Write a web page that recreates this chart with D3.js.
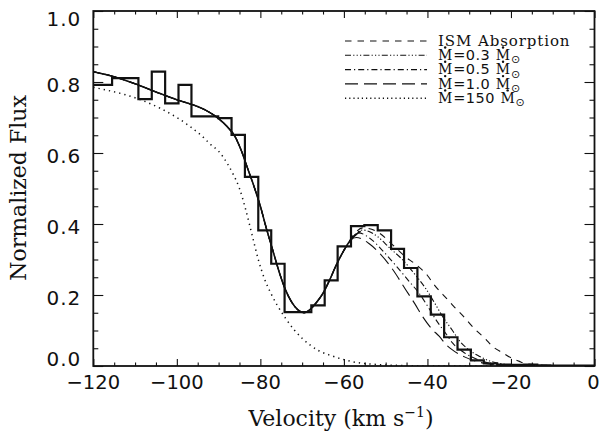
<!DOCTYPE html>
<html>
<head>
<meta charset="utf-8">
<script src="https://cdn.jsdelivr.net/npm/d3@7"></script>
<style>
  body { margin: 0; background: #fff; }
  svg { display: block; }
</style>
</head>
<body>
<div id="chart"></div>
<script>
// ---- Data ----
// observed profile: bin edges (km/s) and flux per bin
const binEdges = [-121.9, -118.7, -115.5, -112.4, -109.2, -106.0, -102.8, -99.6, -96.5, -93.3,
  -90.1, -86.9, -83.7, -80.5, -77.4, -74.2, -71.0, -67.8, -64.6, -61.5, -58.3, -55.1, -51.9,
  -48.7, -45.6, -42.4, -39.2, -36.0, -32.8, -29.6, -26.5, -23.3, -20.1, -16.9, -13.7, -10.6,
  -7.4, -4.2, -1.0, 2.2];
const obsFlux = [0.792, 0.792, 0.811, 0.811, 0.752, 0.829, 0.740, 0.792, 0.703, 0.703,
  0.698, 0.651, 0.533, 0.382, 0.288, 0.152, 0.152, 0.171, 0.241, 0.337, 0.394, 0.397, 0.382,
  0.330, 0.276, 0.196, 0.145, 0.081, 0.046, 0.016, 0.007, 0.004, 0.003, 0.004, 0.002, 0.001,
  0.001, 0.001, 0.001];

// shared blue wing of the low-mass-loss models (also drawn solid)
const wingVel = [-120, -115, -110, -105, -100, -96, -93, -90, -88, -86, -84.5, -83, -81.5, -80,
  -78.5, -77, -75.5, -74, -72.5, -71, -69.5, -68, -66.5, -65, -63.5, -62, -60.5, -59];
const wingFlux = [0.829, 0.815, 0.795, 0.772, 0.750, 0.735, 0.720, 0.697, 0.675, 0.645, 0.605,
  0.555, 0.505, 0.450, 0.385, 0.325, 0.265, 0.215, 0.180, 0.158, 0.150, 0.160, 0.180, 0.205,
  0.240, 0.280, 0.315, 0.345];

// red side of each model
const ismVel = [-57.5, -55.5, -52, -48.4, -45, -43.2, -40, -38.4, -35, -33.7, -31, -28.9, -26,
  -24.5, -22, -20, -18, -16.5, -13, -8, 0];
const ismFlux = [0.372, 0.389, 0.378, 0.342, 0.305, 0.290, 0.255, 0.229, 0.185, 0.168, 0.135,
  0.107, 0.075, 0.056, 0.037, 0.023, 0.013, 0.007, 0.003, 0.001, 0.0];

const m03Vel = [-57.5, -55.5, -52, -49, -46, -43, -40.4, -38, -36.4, -34, -32.4, -30, -28, -25,
  -22, -18, -12, 0];
const m03Flux = [0.368, 0.383, 0.365, 0.332, 0.300, 0.258, 0.218, 0.172, 0.140, 0.100, 0.072,
  0.045, 0.030, 0.014, 0.006, 0.002, 0.0, 0.0];

const m05Vel = [-58, -56.5, -53.5, -50.5, -47.5, -44.5, -42, -39.5, -38, -35.5, -34, -31.5,
  -29.5, -26.5, -23.5, -19.5, -14, 0];
const m05Flux = [0.362, 0.375, 0.357, 0.322, 0.282, 0.240, 0.205, 0.160, 0.131, 0.090, 0.065,
  0.040, 0.026, 0.012, 0.005, 0.0015, 0.0, 0.0];

const m10Vel = [-58.5, -57, -54, -51.5, -48.5, -45.2, -43, -41.2, -39, -37.2, -35.5, -34.1, -31,
  -28, -25, -21, -15, 0];
const m10Flux = [0.355, 0.362, 0.345, 0.318, 0.275, 0.215, 0.175, 0.140, 0.105, 0.084, 0.060,
  0.046, 0.025, 0.012, 0.005, 0.0015, 0.0, 0.0];

const m150Vel = [-120, -116, -112, -108, -104, -100, -97, -94, -92, -90, -88, -86.5, -85, -83.5,
  -82, -80.5, -79, -77.5, -76, -74, -72, -70, -68, -66, -63, -60, -57, -54, -50, -45, -40, 0];
const m150Flux = [0.785, 0.775, 0.763, 0.747, 0.726, 0.700, 0.676, 0.648, 0.625, 0.605, 0.572,
  0.540, 0.500, 0.440, 0.370, 0.300, 0.245, 0.205, 0.172, 0.135, 0.103, 0.078, 0.058, 0.043,
  0.029, 0.018, 0.010, 0.006, 0.003, 0.001, 0.0, 0.0];

const xMajor = [-120, -100, -80, -60, -40, -20, 0];
const yMajor = [0, 0.2, 0.4, 0.6, 0.8, 1.0];

// legend: pieces are [text, kind]; 'mdot' is an M with a dot over it, 'sun' the subscript symbol
const legendItems = [
  { key: 'ism', dash: '6.5 6', legDash: '6.5 6', label: [['ISM Absorption', 'serif']] },
  { key: 'm03', dash: '6 2.2 1.2 2.2 1.2 2.2 1.2 2.2', legDash: '6 2.2 1.2 2.2 1.2 2.2 1.2 2.2',
    label: [['M', 'mdot'], ['=0.3', 'sans'], ['M', 'mdot'], ['⊙', 'sun']] },
  { key: 'm05', dash: '6 3 1.2 3', legDash: '6 3 1.2 3',
    label: [['M', 'mdot'], ['=0.5', 'sans'], ['M', 'mdot'], ['⊙', 'sun']] },
  { key: 'm10', dash: '13 6', legDash: '13 6',
    label: [['M', 'mdot'], ['=1.0', 'sans'], ['M', 'mdot'], ['⊙', 'sun']] },
  { key: 'm150', dash: '1.3 4', legDash: '1.2 3',
    label: [['M', 'mdot'], ['=150', 'sans'], ['M', 'mdot'], ['⊙', 'sun']] }
];

// ---- Layout ----
const W = 600, H = 438;
const margin = { top: 11, right: 5.5, bottom: 72, left: 93.3 };
const iw = W - margin.left - margin.right;
const ih = H - margin.top - margin.bottom;
const serif = '"DejaVu Serif", serif';
const sans = '"DejaVu Sans", sans-serif';
const ink = '#111';

const svg = d3.select('#chart').append('svg').attr('width', W).attr('height', H);
const defs = svg.append('defs');
defs.append('clipPath').attr('id', 'plotClip')
  .append('rect').attr('width', iw).attr('height', ih);

const g = svg.append('g').attr('transform', `translate(${margin.left},${margin.top})`);

const x = d3.scaleLinear().domain([-120, 0]).range([0, iw]);
const y = d3.scaleLinear().domain([0, 1]).range([ih, 0]);

const xMinor = d3.range(-120, 0.1, 5).filter(v => !xMajor.includes(v));
const yMinor = d3.range(0, 1.001, 0.05).map(v => +v.toFixed(2)).filter(v => !yMajor.includes(v));

// ---- Axes (IDL style: inward ticks on all four sides) ----
const xTickLen = 7.1, yTickLen = 10;
function tickAxis(axisFn, scale, values, len, transform) {
  g.append('g')
    .attr('transform', transform)
    .call(axisFn(scale).tickValues(values).tickSize(-len).tickFormat(''))
    .call(a => a.select('.domain').remove())
    .call(a => a.selectAll('line').attr('stroke', ink).attr('stroke-width', 1.1));
}
tickAxis(d3.axisBottom, x, xMajor, xTickLen, `translate(0,${ih})`);
tickAxis(d3.axisBottom, x, xMinor, xTickLen / 2, `translate(0,${ih})`);
tickAxis(d3.axisTop, x, xMajor, xTickLen, 'translate(0,0)');
tickAxis(d3.axisTop, x, xMinor, xTickLen / 2, 'translate(0,0)');
tickAxis(d3.axisLeft, y, yMajor, yTickLen, 'translate(0,0)');
tickAxis(d3.axisLeft, y, yMinor, yTickLen / 2, 'translate(0,0)');
tickAxis(d3.axisRight, y, yMajor, yTickLen, `translate(${iw},0)`);
tickAxis(d3.axisRight, y, yMinor, yTickLen / 2, `translate(${iw},0)`);

// tick labels
g.append('g').selectAll('text').data(xMajor).join('text')
  .attr('x', d => d === 0 ? x(d) - 1 : x(d)).attr('y', ih + 23)
  .attr('text-anchor', 'middle')
  .attr('font-family', sans).attr('font-size', 19.5).attr('fill', ink)
  .text(d => d3.format('d')(d));

g.append('g').selectAll('text').data(yMajor).join('text')
  .attr('x', -12).attr('y', d => Math.min(ih, Math.max(14.5, y(d) + 9.5)))
  .attr('text-anchor', 'end')
  .attr('font-family', sans).attr('font-size', 20).attr('fill', ink)
  .attr('letter-spacing', 1)
  .text(d => d.toFixed(1));

// frame
g.append('rect').attr('width', iw).attr('height', ih)
  .attr('fill', 'none').attr('stroke', ink).attr('stroke-width', 1.8);

// axis titles
svg.append('text')
  .attr('transform', `translate(26,188) rotate(-90)`)
  .attr('text-anchor', 'middle')
  .attr('font-family', serif).attr('font-size', 22).attr('fill', ink)
  .text('Normalized Flux');

const xt = svg.append('text')
  .attr('x', 341).attr('y', 426)
  .attr('text-anchor', 'middle')
  .attr('font-family', serif).attr('font-size', 22).attr('fill', ink);
xt.append('tspan').text('Velocity (km s');
xt.append('tspan').attr('dy', -9).attr('font-size', 14).text('−1');
xt.append('tspan').attr('dy', 9).text(')');

// ---- Data marks ----
const plot = g.append('g').attr('clip-path', 'url(#plotClip)');
const line = d3.line().x(d => x(d[0])).y(d => y(d[1])).curve(d3.curveMonotoneX);
const zip = (vs, fs) => vs.map((v, i) => [v, fs[i]]);

const wing = zip(wingVel, wingFlux);
const curves = {
  ism: wing.concat(zip(ismVel, ismFlux)),
  m03: wing.concat(zip(m03Vel, m03Flux)),
  m05: wing.concat(zip(m05Vel, m05Flux)),
  m10: wing.concat(zip(m10Vel, m10Flux)),
  m150: zip(m150Vel, m150Flux)
};

// solid fit through the absorption trough
plot.append('path')
  .datum(wing.concat([[-57.5, 0.366], [-56, 0.38]]))
  .attr('d', line)
  .attr('fill', 'none').attr('stroke', ink).attr('stroke-width', 1.6);

legendItems.forEach(item => {
  plot.append('path')
    .datum(curves[item.key])
    .attr('d', line)
    .attr('fill', 'none').attr('stroke', ink)
    .attr('stroke-width', item.key === 'm150' ? 1.5 : 1.1)
    .attr('stroke-dasharray', item.dash);
});

// observed histogram
const steps = [];
obsFlux.forEach((f, i) => {
  steps.push([binEdges[i], f]);
  steps.push([binEdges[i + 1], f]);
});
plot.append('path')
  .datum(steps)
  .attr('d', d3.line().x(d => x(d[0])).y(d => y(d[1])))
  .attr('fill', 'none').attr('stroke', ink).attr('stroke-width', 2.2)
  .attr('stroke-linejoin', 'miter');

// ---- Legend ----
const leg = svg.append('g');
legendItems.forEach((item, i) => {
  const ly = 41 + i * 14.3;
  leg.append('line')
    .attr('x1', 345).attr('x2', 427).attr('y1', ly).attr('y2', ly)
    .attr('stroke', ink).attr('stroke-width', item.key === 'm150' ? 1.4 : 1.1)
    .attr('stroke-dasharray', item.legDash);
  let cx = 438;
  const base = ly + 4.6;
  item.label.forEach(([s, kind]) => {
    const t = leg.append('text').attr('x', cx).attr('y', base).attr('fill', ink).text(s);
    if (kind === 'serif') t.attr('font-family', serif).attr('font-size', 15).attr('letter-spacing', 0.9);
    else if (kind === 'mdot') t.attr('font-family', serif).attr('font-size', 14);
    else if (kind === 'sans') t.attr('font-family', sans).attr('font-size', 14.5).attr('letter-spacing', 0.5);
    else t.attr('font-family', sans).attr('font-size', 11).attr('y', base + 3.5);
    const w = t.node().getComputedTextLength();
    if (kind === 'mdot') {
      leg.append('circle').attr('cx', cx + w / 2).attr('cy', base - 12.4).attr('r', 1.2)
        .attr('fill', ink);
    }
    cx += w + (kind === 'sans' ? 5.5 : (kind === 'mdot' ? 0.8 : 0));
  });
});
</script>
</body>
</html>
